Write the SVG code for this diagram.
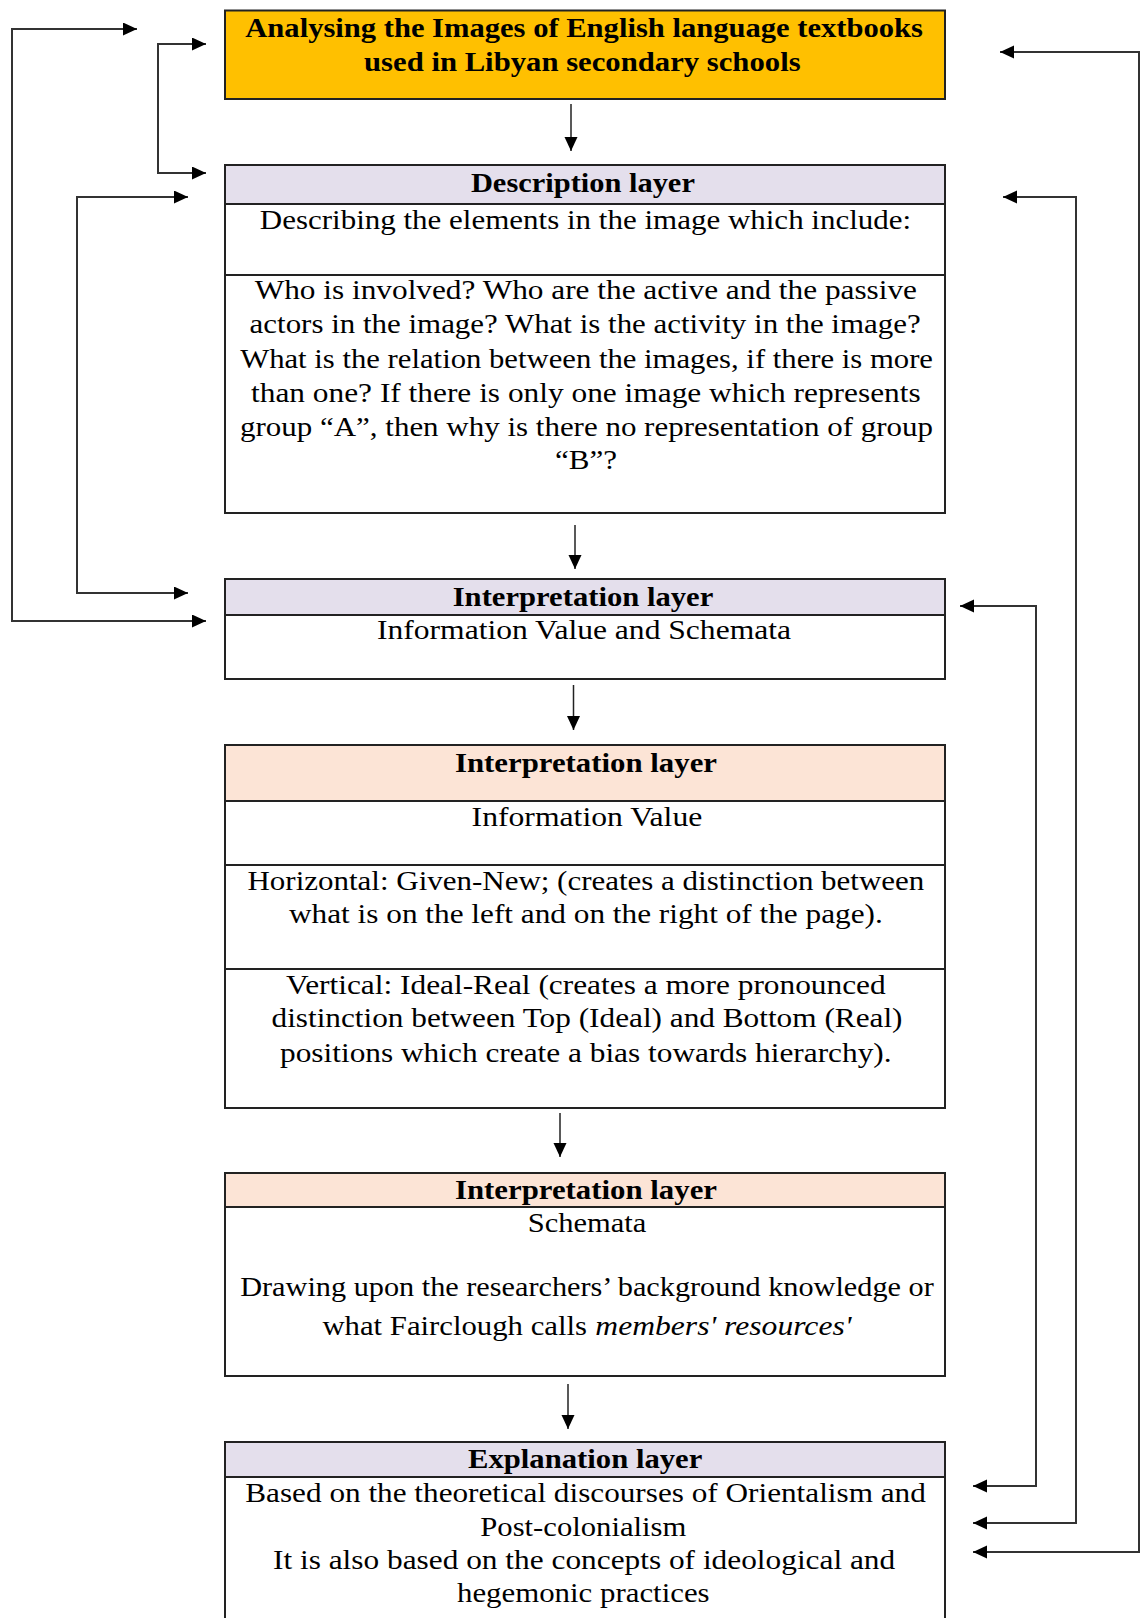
<svg xmlns="http://www.w3.org/2000/svg" width="1141" height="1618" viewBox="0 0 1141 1618">
<defs>
<style>
.box{fill:#ffffff;stroke:#222;stroke-width:2}
.hdrL{fill:#E4DFEC;stroke:#222;stroke-width:2}
.hdrP{fill:#FCE4D6;stroke:#222;stroke-width:2}
.title{fill:#FFC000;stroke:#222;stroke-width:2}
.sep{stroke:#222;stroke-width:2}
text{font-family:"Liberation Serif","Times New Roman",serif;font-size:27px;fill:#000}
.b{font-weight:bold}
.i{font-style:italic}
.con{fill:none;stroke:#333;stroke-width:2}
.down{fill:none;stroke:#222;stroke-width:1.5}
</style>
<marker id="ah" markerUnits="userSpaceOnUse" markerWidth="15" markerHeight="14" refX="14" refY="6.5" orient="auto-start-reverse" viewBox="0 0 15 14">
<path d="M0,0 L14,6.5 L0,13 z" fill="#000"/>
</marker>
</defs>
<rect width="1141" height="1618" fill="#fff"/>

<g id="connectors">
<path class="con" d="M137,29 L12,29 L12,621 L206,621" marker-start="url(#ah)" marker-end="url(#ah)"/>
<path class="con" d="M206,44 L158,44 L158,173 L206,173" marker-start="url(#ah)" marker-end="url(#ah)"/>
<path class="con" d="M188,197 L77,197 L77,593 L188,593" marker-start="url(#ah)" marker-end="url(#ah)"/>
<path class="con" d="M1000,52 L1139,52 L1139,1552 L973,1552" marker-start="url(#ah)" marker-end="url(#ah)"/>
<path class="con" d="M1003,197 L1076,197 L1076,1523 L973,1523" marker-start="url(#ah)" marker-end="url(#ah)"/>
<path class="con" d="M960,606 L1036,606 L1036,1486 L973,1486" marker-start="url(#ah)" marker-end="url(#ah)"/>
<path class="down" d="M571,104 L571,151" marker-end="url(#ah)"/>
<path class="down" d="M575,525 L575,569" marker-end="url(#ah)"/>
<path class="down" d="M573.5,685 L573.5,730" marker-end="url(#ah)"/>
<path class="down" d="M560,1113 L560,1157" marker-end="url(#ah)"/>
<path class="down" d="M568,1384 L568,1429" marker-end="url(#ah)"/>
</g>

<g id="title">
<rect class="title" x="225" y="10.5" width="720" height="88.5"/>
<text class="b" x="245.3" y="37" textLength="677.6" lengthAdjust="spacingAndGlyphs">Analysing the Images of English language textbooks</text>
<text class="b" x="364" y="71" textLength="436.6" lengthAdjust="spacingAndGlyphs">used in Libyan secondary schools</text>
</g>

<g id="description">
<rect class="box" x="225" y="165" width="720" height="348"/>
<rect class="hdrL" x="225" y="165" width="720" height="39"/>
<line class="sep" x1="225" y1="275" x2="945" y2="275"/>
<text class="b" x="470.9" y="192" textLength="224" lengthAdjust="spacingAndGlyphs">Description layer</text>
<text x="259.8" y="229" textLength="651.4" lengthAdjust="spacingAndGlyphs">Describing the elements in the image which include:</text>
<text x="254.7" y="299" textLength="662.3" lengthAdjust="spacingAndGlyphs">Who is involved? Who are the active and the passive</text>
<text x="249.6" y="333" textLength="671.1" lengthAdjust="spacingAndGlyphs">actors in the image? What is the activity in the image?</text>
<text x="240.2" y="368" textLength="692.8" lengthAdjust="spacingAndGlyphs">What is the relation between the images, if there is more</text>
<text x="251" y="402" textLength="669.7" lengthAdjust="spacingAndGlyphs">than one? If there is only one image which represents</text>
<text x="240" y="436" textLength="693" lengthAdjust="spacingAndGlyphs">group “A”, then why is there no representation of group</text>
<text x="555" y="469" textLength="62" lengthAdjust="spacingAndGlyphs">“B”?</text>
</g>

<g id="interpretation1">
<rect class="box" x="225" y="579" width="720" height="100"/>
<rect class="hdrL" x="225" y="579" width="720" height="36"/>
<text class="b" x="452.7" y="606" textLength="260.6" lengthAdjust="spacingAndGlyphs">Interpretation layer</text>
<text x="377" y="639" textLength="414" lengthAdjust="spacingAndGlyphs">Information Value and Schemata</text>
</g>

<g id="interpretation2">
<rect class="box" x="225" y="745" width="720" height="363"/>
<rect class="hdrP" x="225" y="745" width="720" height="56"/>
<line class="sep" x1="225" y1="865" x2="945" y2="865"/>
<line class="sep" x1="225" y1="969" x2="945" y2="969"/>
<text class="b" x="455" y="771.7" textLength="262" lengthAdjust="spacingAndGlyphs">Interpretation layer</text>
<text x="471.6" y="825.7" textLength="230.7" lengthAdjust="spacingAndGlyphs">Information Value</text>
<text x="247.5" y="890" textLength="676.8" lengthAdjust="spacingAndGlyphs">Horizontal: Given-New; (creates a distinction between</text>
<text x="289" y="923" textLength="593.8" lengthAdjust="spacingAndGlyphs">what is on the left and on the right of the page).</text>
<text x="286" y="994" textLength="599.7" lengthAdjust="spacingAndGlyphs">Vertical: Ideal-Real (creates a more pronounced</text>
<text x="271.5" y="1027" textLength="631" lengthAdjust="spacingAndGlyphs">distinction between Top (Ideal) and Bottom (Real)</text>
<text x="280" y="1061.7" textLength="611.6" lengthAdjust="spacingAndGlyphs">positions which create a bias towards hierarchy).</text>
</g>

<g id="interpretation3">
<rect class="box" x="225" y="1173" width="720" height="203"/>
<rect class="hdrP" x="225" y="1173" width="720" height="34"/>
<text class="b" x="455" y="1199.3" textLength="262" lengthAdjust="spacingAndGlyphs">Interpretation layer</text>
<text x="527.7" y="1231.7" textLength="118.6" lengthAdjust="spacingAndGlyphs">Schemata</text>
<text x="240.2" y="1296" textLength="693.6" lengthAdjust="spacingAndGlyphs">Drawing upon the researchers’ background knowledge or</text>
<text x="322.4" y="1335" textLength="264.6" lengthAdjust="spacingAndGlyphs">what Fairclough calls</text>
<text class="i" x="595.3" y="1335" textLength="256.2" lengthAdjust="spacingAndGlyphs">members' resources'</text>
</g>

<g id="explanation">
<rect class="box" x="225" y="1442" width="720" height="200"/>
<rect class="hdrL" x="225" y="1442" width="720" height="35"/>
<text class="b" x="468" y="1468" textLength="234.3" lengthAdjust="spacingAndGlyphs">Explanation layer</text>
<text x="245.3" y="1502" textLength="680.5" lengthAdjust="spacingAndGlyphs">Based on the theoretical discourses of Orientalism and</text>
<text x="480.3" y="1536" textLength="206" lengthAdjust="spacingAndGlyphs">Post-colonialism</text>
<text x="273" y="1569" textLength="622.2" lengthAdjust="spacingAndGlyphs">It is also based on the concepts of ideological and</text>
<text x="457" y="1602" textLength="252.6" lengthAdjust="spacingAndGlyphs">hegemonic practices</text>
</g>
</svg>
